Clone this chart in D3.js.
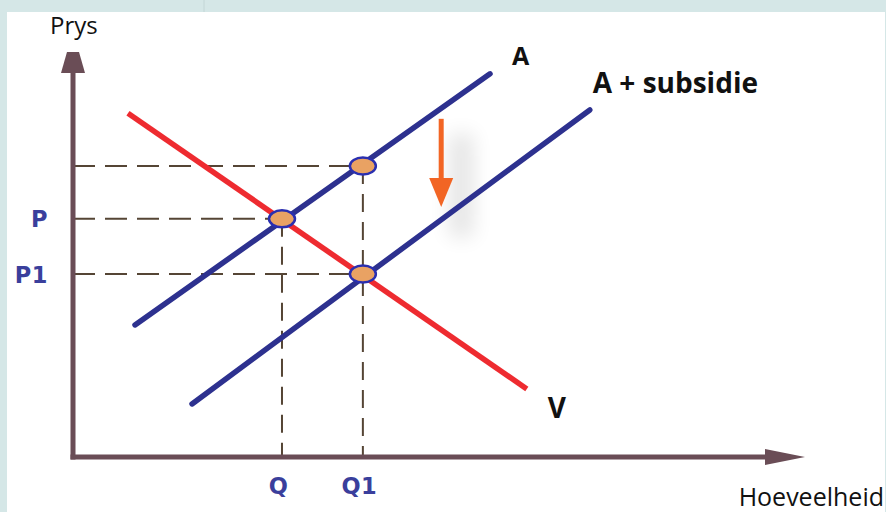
<!DOCTYPE html>
<html>
<head>
<meta charset="utf-8">
<script src="https://cdn.jsdelivr.net/npm/d3@7"></script>
<style>
  html, body { margin: 0; padding: 0; background: #d5e7e7; }
  svg { display: block; }
</style>
</head>
<body>
<div id="chart"></div>
<script>
// values (quantity / price in chart units 0..100)
const qTicks = [28.55, 39.6];
const qLabels = ['Q', 'Q1'];
const pTicks = [58.8, 45.2];
const pLabels = ['P', 'P1'];
const pUpper = 71.85;

const supplyA = [[8.47, 32.6], [56.97, 94.6]];
const supplySub = [[16.26, 13.1], [70.6, 85.7]];
const demandV = [[7.51, 84.9], [62.0, 16.8]];

const dots = [[qTicks[0], pTicks[0]], [qTicks[1], pUpper], [qTicks[1], pTicks[1]]];
const shiftArrow = { q: 50.3, from: 83.5, to: 61.7 };

const axisTitles = { x: 'Hoeveelheid', y: 'Prys' };
const curveLabels = ['A', 'A + subsidie', 'V'];

const COLORS = {
  axis: '#6a4d56',
  dash: '#554535',
  blue: '#2d318f',
  red: '#ee2b30',
  dotFill: '#e9a263',
  dotStroke: '#2a2fb0',
  arrow: '#f26524',
  tickText: '#3a3f9c',
};

const width = 886, height = 512;

const svg = d3.select('#chart').append('svg')
  .attr('width', width)
  .attr('height', height);

// page background: teal frame + white panel
svg.append('rect').attr('width', width).attr('height', height).attr('fill', '#d5e7e7');
svg.append('rect').attr('x', 7).attr('y', 12).attr('width', 878).attr('height', 500).attr('fill', '#ffffff');
svg.append('line').attr('x1', 204).attr('x2', 204).attr('y1', 0).attr('y2', 12)
  .attr('stroke', '#c3d6d6').attr('stroke-width', 1);

const x = d3.scaleLinear().domain([0, 100]).range([73, 805]);
const y = d3.scaleLinear().domain([0, 100]).range([457, 52]);

const defs = svg.append('defs');
defs.append('filter').attr('id', 'blur')
  .attr('x', '-100%').attr('y', '-100%').attr('width', '300%').attr('height', '300%')
  .append('feGaussianBlur').attr('stdDeviation', 10);

// soft shadow next to the shift arrow
svg.append('rect')
  .attr('x', x(shiftArrow.q) + 8)
  .attr('y', y(shiftArrow.from) + 15)
  .attr('width', 24)
  .attr('height', y(shiftArrow.to) - y(shiftArrow.from) + 15)
  .attr('fill', '#000')
  .attr('opacity', 0.1)
  .attr('filter', 'url(#blur)');

// dashed guide lines
const guides = svg.append('g')
  .attr('stroke', COLORS.dash)
  .attr('stroke-width', 2)
  .attr('stroke-dasharray', '22 10');

guides.append('line').attr('x1', x(0)).attr('x2', x(qTicks[1])).attr('y1', y(pUpper)).attr('y2', y(pUpper));
guides.append('line').attr('x1', x(0)).attr('x2', x(qTicks[0])).attr('y1', y(pTicks[0])).attr('y2', y(pTicks[0]));
guides.append('line').attr('x1', x(0)).attr('x2', x(qTicks[1])).attr('y1', y(pTicks[1])).attr('y2', y(pTicks[1]));
guides.append('line').attr('x1', x(qTicks[0])).attr('x2', x(qTicks[0])).attr('y1', y(pTicks[0])).attr('y2', y(0))
  .attr('stroke-dasharray', '18 10');
guides.append('line').attr('x1', x(qTicks[1])).attr('x2', x(qTicks[1])).attr('y1', y(pUpper)).attr('y2', y(0))
  .attr('stroke-dasharray', '18 10');

// axes with arrowheads
const axisG = svg.append('g');
axisG.append('line')
  .attr('x1', x(0)).attr('y1', y(0) + 2.5)
  .attr('x2', x(0)).attr('y2', y(95))
  .attr('stroke', COLORS.axis).attr('stroke-width', 5);
axisG.append('path')
  .attr('d', `M${x(0) - 6},${y(100)} L${x(0) + 6},${y(100)} L${x(0) + 12},${y(100) + 21} L${x(0) - 12},${y(100) + 21} Z`)
  .attr('fill', COLORS.axis);

axisG.append('line')
  .attr('x1', x(0) - 2.5).attr('y1', y(0))
  .attr('x2', x(95)).attr('y2', y(0))
  .attr('stroke', COLORS.axis).attr('stroke-width', 5);
axisG.append('path')
  .attr('d', `M${x(100)},${y(0)} L${x(100) - 40},${y(0) - 8} L${x(100) - 40},${y(0) + 8} Z`)
  .attr('fill', COLORS.axis);

// tick labels via d3 axes (no tick marks)
const xAxis = svg.append('g')
  .attr('transform', `translate(0,${y(0)})`)
  .call(d3.axisBottom(x).tickValues(qTicks).tickFormat((d, i) => qLabels[i]).tickSize(0).tickPadding(21));
const yAxis = svg.append('g')
  .attr('transform', `translate(${x(0)},0)`)
  .call(d3.axisLeft(y).tickValues(pTicks).tickFormat((d, i) => pLabels[i]).tickSize(0).tickPadding(25));

[xAxis, yAxis].forEach(g => {
  g.select('.domain').remove();
  g.attr('font-size', null).attr('font-family', null);
  g.selectAll('text')
    .attr('fill', COLORS.tickText)
    .attr('font-family', 'DejaVu Sans, sans-serif')
    .attr('font-weight', 'bold')
    .attr('font-size', 22.5)
    .attr('letter-spacing', 0.5);
});
xAxis.selectAll('text').attr('dx', '-4');
yAxis.selectAll('text').attr('dy', '0.36em');

// curves
const line = d3.line().x(d => x(d[0])).y(d => y(d[1]));
svg.append('path').datum(supplyA).attr('d', line)
  .attr('stroke', COLORS.blue).attr('stroke-width', 5.5).attr('stroke-linecap', 'round').attr('fill', 'none');
svg.append('path').datum(supplySub).attr('d', line)
  .attr('stroke', COLORS.blue).attr('stroke-width', 5.5).attr('stroke-linecap', 'round').attr('fill', 'none');
svg.append('path').datum(demandV).attr('d', line)
  .attr('stroke', COLORS.red).attr('stroke-width', 5.5).attr('fill', 'none');

// equilibrium dots
svg.selectAll('.dot').data(dots).enter()
  .append('ellipse')
  .attr('class', 'dot')
  .attr('cx', d => x(d[0]))
  .attr('cy', d => y(d[1]))
  .attr('rx', 13)
  .attr('ry', 8.5)
  .attr('fill', COLORS.dotFill)
  .attr('stroke', COLORS.dotStroke)
  .attr('stroke-width', 2.5);

// orange shift arrow
const ax = x(shiftArrow.q);
svg.append('line')
  .attr('x1', ax).attr('x2', ax)
  .attr('y1', y(shiftArrow.from)).attr('y2', y(shiftArrow.to) - 26)
  .attr('stroke', COLORS.arrow).attr('stroke-width', 5);
svg.append('path')
  .attr('d', `M${ax - 12},${y(shiftArrow.to) - 29} L${ax + 12},${y(shiftArrow.to) - 29} L${ax},${y(shiftArrow.to)} Z`)
  .attr('fill', COLORS.arrow);

// curve labels
const labelStyle = sel => sel
  .style('font-family', '"Open Sans", sans-serif')
  .style('font-weight', 'bold')
  .attr('fill', '#111');

svg.append('text').text(curveLabels[0])
  .attr('x', x(supplyA[1][0]) + 22).attr('y', y(supplyA[1][1]) - 9)
  .style('font-size', '25px').call(labelStyle);
svg.append('text').text(curveLabels[1])
  .attr('x', x(supplySub[1][0]) + 3).attr('y', y(supplySub[1][1]) - 17)
  .style('font-size', '28px').call(labelStyle);
svg.append('text').text(curveLabels[2])
  .attr('x', x(demandV[1][0]) + 21).attr('y', y(demandV[1][1]) + 29)
  .style('font-size', '28px').call(labelStyle);

// axis titles
svg.append('text').text(axisTitles.y)
  .attr('x', 50).attr('y', 34)
  .style('font-family', '"Open Sans", sans-serif')
  .style('font-size', '24px')
  .attr('fill', '#111');
svg.append('text').text(axisTitles.x)
  .attr('x', 884).attr('y', 506)
  .attr('text-anchor', 'end')
  .style('font-family', '"Open Sans", sans-serif')
  .style('font-size', '25px')
  .attr('fill', '#111');
</script>
</body>
</html>
